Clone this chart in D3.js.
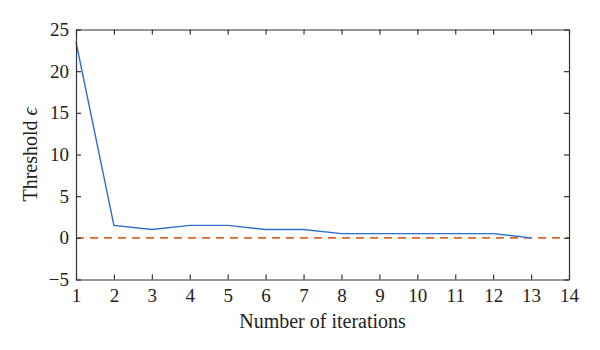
<!DOCTYPE html>
<html><head><meta charset="utf-8">
<script src="https://cdn.jsdelivr.net/npm/d3@7"></script>
<style>body{margin:0;background:#fff}svg{display:block}</style>
</head><body>
<svg id="c" width="600" height="350"></svg>
<script>
const iterations = [1,2,3,4,5,6,7,8,9,10,11,12,13];
const threshold = [23.5,1.5,1.0,1.5,1.5,1.0,1.0,0.5,0.5,0.5,0.5,0.5,0.0];
const xTicks = [1,2,3,4,5,6,7,8,9,10,11,12,13,14];
const yTicks = [-5,0,5,10,15,20,25];
const refLevel = [0];

const svg = d3.select("#c");
const m = {l:76, r:569, t:29.5, b:279.5};
const x = d3.scaleLinear().domain([1,14]).range([m.l,m.r]);
const y = d3.scaleLinear().domain([-5,25]).range([m.b,m.t]);
const font = "'Liberation Serif', 'DejaVu Serif', serif";
const axCol = "#333";

// reference dashed line
svg.selectAll(".ref").data(refLevel).enter().append("line")
  .attr("x1", x(1)).attr("x2", x(14)).attr("y1", d=>y(d)).attr("y2", d=>y(d))
  .attr("stroke", "#e0662e").attr("stroke-width", 1.6).attr("stroke-dasharray", "8,6");

// data line
const line = d3.line().x((d,i)=>x(iterations[i])).y(d=>y(d));
svg.append("path").datum(threshold).attr("d", line)
  .attr("fill","none").attr("stroke","#2f6fd1").attr("stroke-width",1.4);

// axes
const tl = 5;
const gB = svg.append("g").attr("transform",`translate(0,${m.b})`)
  .call(d3.axisBottom(x).tickValues(xTicks).tickSizeInner(-tl).tickSizeOuter(0).tickPadding(9));
const gT = svg.append("g").attr("transform",`translate(0,${m.t})`)
  .call(d3.axisTop(x).tickValues(xTicks).tickSizeInner(-tl).tickSizeOuter(0).tickFormat(""));
const gL = svg.append("g").attr("transform",`translate(${m.l},0)`)
  .call(d3.axisLeft(y).tickValues(yTicks).tickSizeInner(-tl).tickSizeOuter(0).tickPadding(7).tickFormat(d=> d<0 ? "\u2212"+Math.abs(d) : d));
const gR = svg.append("g").attr("transform",`translate(${m.r},0)`)
  .call(d3.axisRight(y).tickValues(yTicks).tickSizeInner(-tl).tickSizeOuter(0).tickFormat(""));
[gB,gT,gL,gR].forEach(g=>{
  g.select(".domain").attr("stroke",axCol).attr("stroke-width",1.2);
  g.selectAll(".tick line").attr("stroke",axCol).attr("stroke-width",1.2);
  g.selectAll("text").attr("font-family",font).attr("font-size",19).attr("fill","#222");
});

svg.append("text").attr("x",(m.l+m.r)/2).attr("y",328).attr("text-anchor","middle")
  .attr("font-family",font).attr("font-size",20).attr("fill","#222").text("Number of iterations");
svg.append("text").attr("transform",`translate(37,${(m.t+m.b)/2}) rotate(-90)`).attr("text-anchor","middle")
  .attr("font-family",font).attr("font-size",20).attr("fill","#222")
  .html("Threshold <tspan font-style='italic'>\u03F5</tspan>");
</script>
</body></html>
